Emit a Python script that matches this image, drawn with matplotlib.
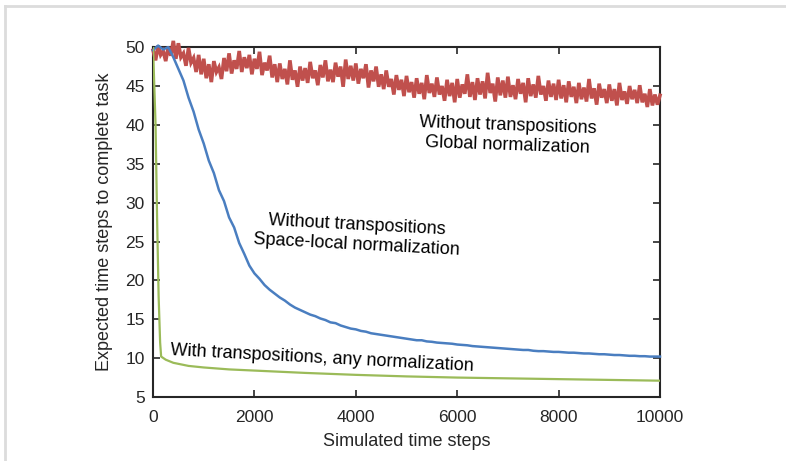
import numpy as np
import matplotlib
matplotlib.use("Agg")
from matplotlib import pyplot as plt
from matplotlib.lines import Line2D

plt.rcParams['font.family'] = ['Liberation Sans', 'DejaVu Sans']

# --- data ---
red_x = np.arange(0, 10001, 50)
red_y = [
    49.6, 48.3, 50.2, 49.0, 49.5, 48.2, 50.0, 48.9, 50.8, 48.5,
    50.5, 48.7, 49.2, 47.6, 49.9, 48.0, 48.6, 46.8, 49.0, 46.5,
    48.5, 46.0, 47.8, 45.5, 48.2, 46.8, 47.4, 45.9, 48.6, 46.9,
    49.2, 46.6, 48.3, 47.2, 49.5, 46.8, 48.7, 47.3, 49.0, 46.5,
    48.5, 47.2, 49.4, 46.4, 48.0, 47.0, 48.9, 46.1, 47.8, 45.5,
    47.9, 45.9, 47.2, 45.2, 48.3, 45.8, 47.0, 44.9, 47.5, 45.7,
    47.3, 45.4, 48.1, 46.0, 47.0, 45.1, 47.7, 46.1, 48.3, 45.6,
    47.1, 45.5, 48.0, 46.2, 47.5, 44.9, 48.4, 45.9, 47.6, 45.7,
    47.9, 45.3, 47.2, 46.0, 47.8, 44.8, 47.0, 45.6, 47.5, 44.9,
    46.5, 44.6, 47.0, 44.9, 45.9, 43.9, 46.4, 44.5, 45.8, 43.7,
    46.3, 44.2, 45.5, 43.5, 46.0, 44.0, 45.4, 43.3, 46.4, 44.1,
    45.3, 43.6, 46.1, 43.9, 45.0, 43.1, 45.8, 43.7, 45.4, 42.9,
    45.9, 43.5, 45.2, 44.0, 46.5, 43.6, 45.5, 43.2, 46.0, 43.9,
    45.6, 43.4, 46.7, 44.1, 45.3, 43.0, 46.1, 43.8, 45.7, 43.5,
    46.2, 43.6, 45.1, 43.3, 45.9, 44.0, 45.4, 42.9, 46.0, 43.7,
    45.2, 43.5, 46.3, 43.9, 45.0, 43.1, 45.7, 43.6, 45.3, 43.2,
    45.8, 43.4, 45.1, 42.9, 45.6, 43.6, 44.9, 42.8, 45.4, 43.3,
    44.8, 43.0, 45.9, 43.4, 44.7, 42.6, 45.3, 43.5, 44.6, 42.8,
    45.2, 43.1, 44.6, 42.5, 45.4, 43.2, 44.3, 42.7, 45.0, 43.3,
    44.5, 42.8, 45.1, 42.9, 44.0, 42.3, 44.6, 42.5, 43.9, 42.6,
    43.8,
]

blue_x = np.arange(0, 10001, 100)
blue_y = [
    49.6, 50.2, 49.7, 50.0, 48.7, 47.2, 45.7, 43.5, 41.7, 39.4,
    37.6, 35.4, 33.8, 31.6, 30.2, 28.1, 26.8, 24.8, 23.4, 21.9,
    20.9, 20.2, 19.4, 18.8, 18.3, 17.8, 17.4, 16.9, 16.5, 16.2,
    15.9, 15.6, 15.4, 15.1, 14.9, 14.6, 14.5, 14.2, 14.0, 13.8,
    13.7, 13.5, 13.4, 13.2, 13.1, 13.0, 12.9, 12.8, 12.7, 12.6,
    12.5, 12.4, 12.3, 12.3, 12.15, 12.1, 12.0, 11.95, 11.9, 11.85,
    11.75, 11.7, 11.65, 11.55, 11.5, 11.45, 11.4, 11.35, 11.3, 11.25,
    11.2, 11.15, 11.1, 11.05, 11.05, 10.95, 10.9, 10.9, 10.85, 10.8,
    10.8, 10.75, 10.7, 10.7, 10.65, 10.6, 10.6, 10.55, 10.5, 10.5,
    10.45, 10.4, 10.4, 10.35, 10.3, 10.3, 10.25, 10.25, 10.2, 10.2,
    10.2,
]

green_x = [0, 50, 80, 110, 140, 160, 250, 400, 700, 1000, 1500, 2000,
           3000, 4000, 5000, 6000, 7000, 8000, 9000, 10000]
green_y = [50, 40, 28, 18, 12, 10.2, 9.8, 9.4, 9.0, 8.8, 8.55, 8.4,
           8.1, 7.85, 7.65, 7.5, 7.4, 7.3, 7.2, 7.1]

labels = ['Without transpositions\nGlobal normalization',
          'Without transpositions\nSpace-local normalization',
          'With transpositions, any normalization']

RED = '#C0504D'
BLUE = '#4A7EC0'
GREEN = '#9BBB59'

fig = plt.figure(figsize=(7.86, 4.61), dpi=100)
ax = fig.add_axes([0.1947, 0.1388, 0.645, 0.759])

ax.plot(red_x, red_y, color=RED, linewidth=2.6, solid_joinstyle='miter',
        clip_on=False, zorder=3)
ax.plot(blue_x, blue_y, color=BLUE, linewidth=1.8, clip_on=False, zorder=4)
ax.plot(green_x, green_y, color=GREEN, linewidth=1.6, zorder=5)

ax.set_xlim(0, 10000)
ax.set_ylim(5, 50)
ax.set_xticks(np.arange(0, 10001, 2000))
ax.set_yticks(np.arange(5, 51, 5))
ax.tick_params(direction='in', length=5, width=1.2, top=True, right=True,
               labelsize=12.5, labelcolor='#262626', color='#262626')
ax.tick_params(axis='x', pad=9)
ax.tick_params(axis='y', pad=6)
for s in ax.spines.values():
    s.set_linewidth(1.5)
    s.set_color('#262626')

ax.set_xlabel('Simulated time steps', fontsize=13, color='#262626', labelpad=6)
ax.set_ylabel('Expected time steps to complete task', fontsize=13,
              color='#262626', labelpad=9)

ax.text(7000, 38.6, labels[0], fontsize=13, ha='center', va='center',
        rotation=-2, linespacing=1.2, color='black', zorder=6)
ax.text(4020, 25.8, labels[1], fontsize=13, ha='center', va='center',
        rotation=-3, linespacing=1.2, color='black', zorder=6)
ax.text(3330, 10.0, labels[2], fontsize=13, ha='center', va='center',
        rotation=-3, color='black', zorder=6)

# light gray frame around the image (top and left)
fig.add_artist(Line2D([5 / 786, 5 / 786], [0, 1 - 6 / 461],
                      transform=fig.transFigure, color='#dcdcdc', linewidth=2))
fig.add_artist(Line2D([5 / 786, 1], [1 - 6 / 461, 1 - 6 / 461],
                      transform=fig.transFigure, color='#dcdcdc', linewidth=2))

plt.savefig('out.png', dpi=100)
